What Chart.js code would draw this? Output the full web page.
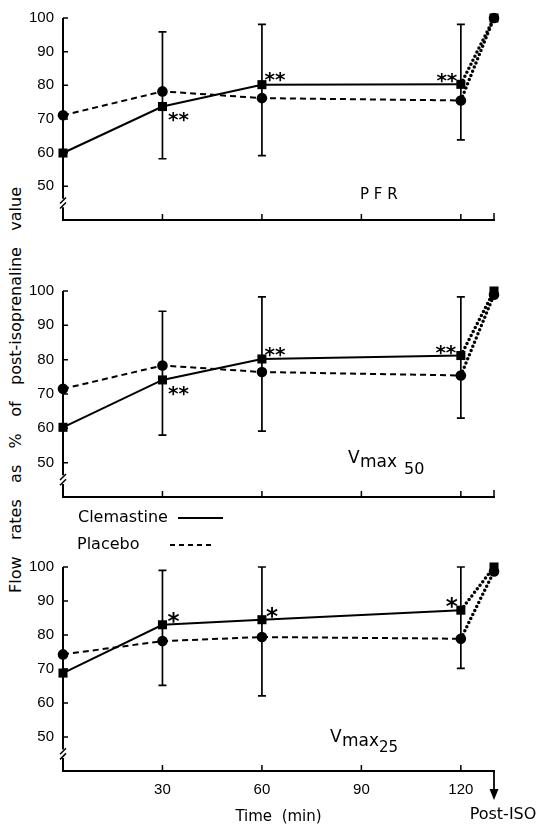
<!DOCTYPE html>
<html>
<head>
<meta charset="utf-8">
<title>Flow rates after clemastine and placebo</title>
<script src="https://cdn.jsdelivr.net/npm/chart.js@4.4.1/dist/chart.umd.min.js"></script>
<style>
  body { margin: 0; background: #fff; }
  #page { position: relative; width: 541px; height: 830px; overflow: hidden; }
  canvas { position: absolute; left: 0; }
  #ytitle {
    position: absolute; left: -187px; top: 380px; width: 406px; height: 20px; line-height: 20px;
    font: 16px "DejaVu Sans"; color: #000;
    text-align: justify; text-align-last: justify;
    transform: rotate(-90deg);
  }
</style>
</head>
<body>
<div id="page">
  <div id="ytitle">Flow rates as % of post-isoprenaline value</div>
  <canvas id="pfr" width="541" height="250" style="top:0"></canvas>
  <canvas id="v50" width="541" height="290" style="top:273px"></canvas>
  <canvas id="v25" width="541" height="281" style="top:549px"></canvas>
</div>
<script>
// time points (min); the last one (130) is the post-isoprenaline value
const times = [0, 30, 60, 120, 130];
const xTicks = [30, 60, 90, 120];
const yTicks = [50, 60, 70, 80, 90, 100];
const errTimes = [30, 60, 120];
const seriesNames = ['Clemastine', 'Placebo'];

// PFR
const pfrClem = [59.9, 73.7, 80.2, 80.3, 100];
const pfrPlac = [71.1, 78.2, 76.2, 75.5, 100];
const pfrErrLo = [58.2, 59.1, 63.8];
const pfrErrHi = [95.9, 98.1, 98.1];
const pfrStars = ['**', '**', '**'];

// Vmax50
const v50Clem = [60.3, 74.1, 80.2, 81.2, 100];
const v50Plac = [71.5, 78.3, 76.4, 75.4, 98.9];
const v50ErrLo = [58.0, 59.2, 63.0];
const v50ErrHi = [94.1, 98.3, 98.3];
const v50Stars = ['**', '**', '**'];

// Vmax25
const v25Clem = [68.8, 83.0, 84.5, 87.3, 100];
const v25Plac = [74.3, 78.2, 79.4, 78.9, 98.7];
const v25ErrLo = [65.2, 62.1, 70.2];
const v25ErrHi = [99.0, 100, 100];
const v25Stars = ['*', '*', '*'];

const FONT = 'DejaVu Sans';
const NUMFONT = 'Liberation Sans';

function pts(vals) {
  return times.map((t, i) => ({ x: t, y: vals[i] }));
}
// last segment (120 -> post-ISO) is drawn dotted
const dotted = c => c.p1DataIndex === times.length - 1;

function datasets(clem, plac) {
  return [{
    label: seriesNames[0],
    data: pts(clem),
    clip: false,
    borderColor: '#000', backgroundColor: '#000', borderWidth: 2,
    pointStyle: 'rect', pointRadius: 6.4, pointBorderWidth: 0,
    segment: {
      borderDash: c => dotted(c) ? [0, 4.5] : [],
      borderWidth: c => dotted(c) ? 3.5 : 2,
      borderCapStyle: c => dotted(c) ? 'round' : 'butt'
    }
  }, {
    label: seriesNames[1],
    data: pts(plac),
    clip: false,
    borderColor: '#000', backgroundColor: '#000', borderWidth: 2,
    borderDash: [6, 4],
    pointStyle: 'circle', pointRadius: 5.3, pointBorderWidth: 0,
    segment: {
      borderDash: c => dotted(c) ? [0, 4.5] : [6, 4],
      borderWidth: c => dotted(c) ? 3.5 : 2,
      borderCapStyle: c => dotted(c) ? 'round' : 'butt'
    }
  }];
}

// axis break, inner ticks, error bars, asterisks, panel labels
const decor = {
  id: 'decor',
  beforeDatasetsDraw(chart, args, o) {
    const { ctx, scales: { x, y } } = chart;
    ctx.save();
    ctx.strokeStyle = '#000';
    ctx.lineWidth = 1.7;
    o.errLo.forEach((lo, i) => {
      const px = x.getPixelForValue(errTimes[i]);
      const top = y.getPixelForValue(o.errHi[i]);
      const bot = y.getPixelForValue(lo);
      ctx.beginPath();
      ctx.moveTo(px, top); ctx.lineTo(px, bot);
      ctx.moveTo(px - 4, top); ctx.lineTo(px + 4, top);
      ctx.moveTo(px - 4, bot); ctx.lineTo(px + 4, bot);
      ctx.stroke();
    });
    ctx.restore();
  },
  afterDraw(chart, args, o) {
    const { ctx, chartArea, scales: { x, y } } = chart;
    const x0 = x.getPixelForValue(0);
    const bottom = chartArea.bottom;
    ctx.save();
    ctx.strokeStyle = '#000';
    ctx.fillStyle = '#000';

    // y axis with break
    ctx.lineWidth = 2;
    ctx.beginPath();
    ctx.moveTo(x0, y.getPixelForValue(100));
    ctx.lineTo(x0, y.getPixelForValue(46.3));
    ctx.stroke();
    const b1 = y.getPixelForValue(45.8), b2 = y.getPixelForValue(44.3);
    ctx.lineWidth = 1.5;
    ctx.beginPath();
    ctx.moveTo(x0 - 3, b1 + 3); ctx.lineTo(x0 + 3, b1 - 3);
    ctx.moveTo(x0 - 3, b2 + 3); ctx.lineTo(x0 + 3, b2 - 3);
    ctx.stroke();
    ctx.lineWidth = 2;
    ctx.beginPath();
    ctx.moveTo(x0, y.getPixelForValue(43.8));
    ctx.lineTo(x0, bottom);
    ctx.stroke();

    // inner ticks
    ctx.lineWidth = 1.5;
    ctx.beginPath();
    yTicks.forEach(v => {
      const py = y.getPixelForValue(v);
      ctx.moveTo(x0, py); ctx.lineTo(x0 + 5, py);
    });
    xTicks.forEach(v => {
      const px = x.getPixelForValue(v);
      ctx.moveTo(px, bottom); ctx.lineTo(px, bottom - 6);
    });
    const pIso = x.getPixelForValue(times[times.length - 1]);
    if (!o.arrow) {
      ctx.moveTo(pIso, bottom); ctx.lineTo(pIso, bottom - 7);
    }
    ctx.stroke();

    if (o.arrow) {
      ctx.lineWidth = 1.8;
      ctx.beginPath();
      ctx.moveTo(pIso, bottom); ctx.lineTo(pIso, bottom + 20);
      ctx.stroke();
      ctx.beginPath();
      ctx.moveTo(pIso - 4.5, bottom + 18);
      ctx.lineTo(pIso + 4.5, bottom + 18);
      ctx.lineTo(pIso, bottom + 29);
      ctx.closePath();
      ctx.fill();
      ctx.font = '16px "' + FONT + '"';
      ctx.textAlign = 'center';
      ctx.textBaseline = 'middle';
      ctx.fillText('Post-ISO', o.arrow[0], o.arrow[1]);
    }

    // significance stars on clemastine points 30, 60, 120
    const meta = chart.getDatasetMeta(0);
    ctx.textAlign = 'center';
    ctx.textBaseline = 'alphabetic';
    o.stars.forEach((s, i) => {
      const pt = meta.data[i + 1];
      const size = s.length === 1 ? 23 : 20;
      ctx.font = 'bold ' + size + 'px "' + FONT + '"';
      const [dx, dy] = o.starOff[i];
      ctx.fillText(s, pt.x + dx, pt.y + dy + 0.54 * size);
    });

    // panel label
    ctx.textAlign = 'left';
    ctx.textBaseline = 'middle';
    o.label.forEach(([t, px, py, size]) => {
      ctx.font = size + 'px "' + FONT + '"';
      ctx.fillText(t, px, py);
    });

    // legend (text then line sample)
    if (o.legend) {
      ctx.font = '16px "' + FONT + '"';
      ctx.lineWidth = 1.8;
      o.legend.forEach(([tx, ty, l0, l1], i) => {
        ctx.fillText(chart.data.datasets[i].label, tx, ty);
        ctx.setLineDash(i === 0 ? [] : [5, 4]);
        ctx.beginPath();
        ctx.moveTo(l0, ty); ctx.lineTo(l1, ty);
        ctx.stroke();
      });
      ctx.setLineDash([]);
    }
    ctx.restore();
  }
};

function makeChart(id, clem, plac, errLo, errHi, stars, deco, axisH, showX) {
  new Chart(document.getElementById(id), {
    type: 'line',
    data: { datasets: datasets(clem, plac) },
    options: {
      responsive: false,
      animation: false,
      events: [],
      layout: { padding: { top: 16, right: 47, left: 0, bottom: showX ? 4 : 0 } },
      plugins: {
        legend: { display: false },
        tooltip: { enabled: false },
        decor: Object.assign({ errLo: errLo, errHi: errHi, stars: stars }, deco)
      },
      scales: {
        x: {
          type: 'linear', min: 0, max: times[times.length - 1],
          afterBuildTicks: s => { s.ticks = xTicks.map(v => ({ value: v })); },
          afterFit: s => { s.height = axisH; },
          ticks: {
            display: showX, autoSkip: false, maxRotation: 0, padding: 10,
            color: '#000', font: { family: NUMFONT, size: 15 }
          },
          grid: { display: false, drawTicks: false },
          border: { display: true, color: '#000', width: 2 },
          title: {
            display: showX, text: 'Time  (min)', color: '#000',
            font: { family: FONT, size: 15 }, padding: { top: 0, bottom: 0 }
          }
        },
        y: {
          min: 40, max: 100,
          afterBuildTicks: s => { s.ticks = yTicks.map(v => ({ value: v })); },
          afterFit: s => { s.width = 63; },
          ticks: { padding: 9, color: '#000', font: { family: NUMFONT, size: 15 } },
          grid: { display: false, drawTicks: false },
          border: { display: false }
        }
      }
    },
    plugins: [decor]
  });
}

makeChart('pfr', pfrClem, pfrPlac, pfrErrLo, pfrErrHi, pfrStars, {
  starOff: [[16, 9], [13, -9], [-14, -8]],
  label: [['P F R', 360, 195, 15]]
}, 30, false);

makeChart('v50', v50Clem, v50Plac, v50ErrLo, v50ErrHi, v50Stars, {
  starOff: [[16, 9], [13, -9], [-15, -7]],
  label: [['V', 348, 186, 17], ['max', 360, 190, 17], ['50', 404, 197, 16]],
  legend: [[78, 245, 178, 223], [77, 272, 170, 213]]
}, 66, false);

makeChart('v25', v25Clem, v25Plac, v25ErrLo, v25ErrHi, v25Stars, {
  starOff: [[11, -8], [10, -8], [-9, -9]],
  label: [['V', 330, 189, 17], ['max', 342, 193, 17], ['25', 379, 199, 15]],
  arrow: [503, 266]
}, 55, true);
</script>
</body>
</html>
